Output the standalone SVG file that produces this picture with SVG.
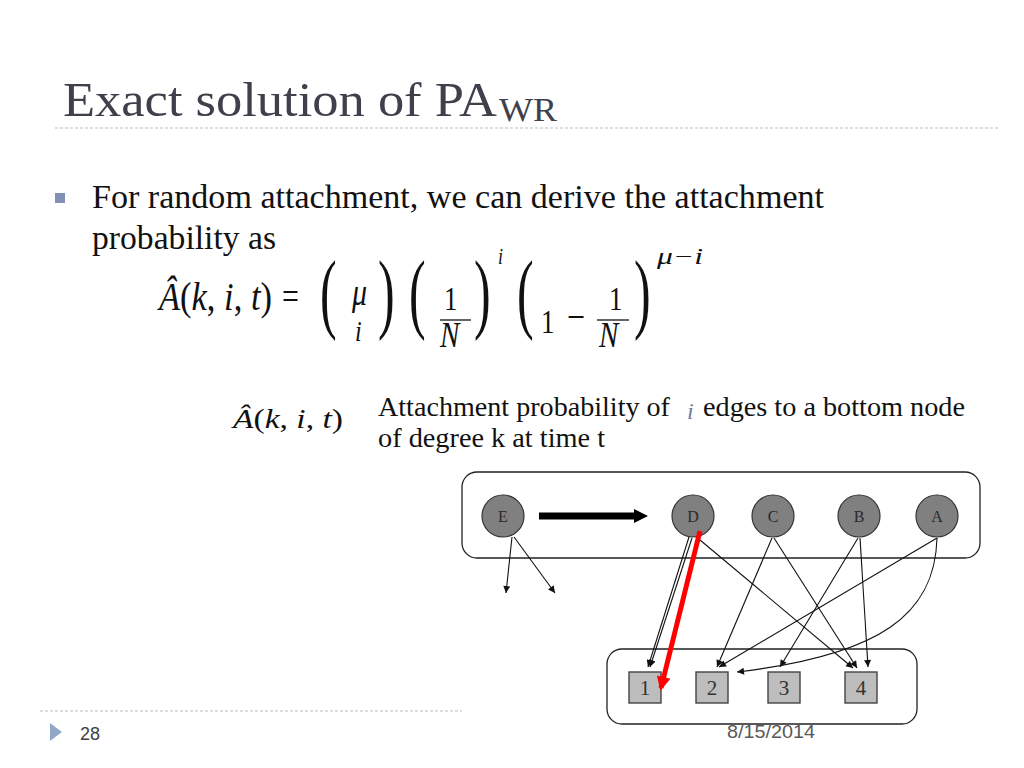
<svg xmlns="http://www.w3.org/2000/svg" width="1024" height="768" viewBox="0 0 1024 768">
<style>
.serif{font-family:"Liberation Serif","Times New Roman",serif}
.sans{font-family:"Liberation Sans",Arial,sans-serif}
.it{font-style:italic}
.dash{stroke:#b4bfcc;stroke-width:1.2;stroke-dasharray:3 2;fill:none}
.edge{stroke:#111;stroke-width:1.1;fill:none;marker-end:url(#ah)}
.node circle{fill:#808080;stroke:#333;stroke-width:1.2}
.node rect{fill:#bdbdbd;stroke:#444;stroke-width:1.4}
.nl{font-family:"Liberation Serif","Times New Roman",serif;font-size:16px;fill:#2a2a2a;text-anchor:middle}
.sl{font-family:"Liberation Serif","Times New Roman",serif;font-size:21px;fill:#333;text-anchor:middle}
.box{fill:none;stroke:#222;stroke-width:1.3}
.f{font-family:"Liberation Serif","Times New Roman",serif;fill:#111}
</style>
<defs>
<marker id="ah" viewBox="0 0 10 10" refX="10" refY="5" markerWidth="8" markerHeight="7" markerUnits="userSpaceOnUse" orient="auto">
<path d="M0,0 L10,5 L0,10 z" fill="#111"/>
</marker>
<marker id="rh" viewBox="0 0 10 10" refX="8" refY="5" markerWidth="16" markerHeight="14" markerUnits="userSpaceOnUse" orient="auto">
<path d="M0,0 L10,5 L0,10 z" fill="#ff0000"/>
</marker>
</defs>
<rect width="1024" height="768" fill="#ffffff"/>

<!-- title -->
<g id="title">
<text class="serif" x="63" y="116" font-size="48" fill="#40404c" textLength="434" lengthAdjust="spacingAndGlyphs">Exact solution of PA</text>
<text class="serif" x="499" y="121" font-size="33" fill="#40404c" textLength="58" lengthAdjust="spacingAndGlyphs">WR</text>
<line class="dash" x1="55" y1="128" x2="1000" y2="128"/>
</g>

<!-- bullet -->
<g id="bullet">
<rect x="55" y="193" width="10" height="10" fill="#8190b6"/>
<text class="serif" x="92" y="208" font-size="33.5" fill="#111" textLength="732" lengthAdjust="spacingAndGlyphs">For random attachment, we can derive the attachment</text>
<text class="serif" x="92" y="249" font-size="33.5" fill="#111" textLength="184" lengthAdjust="spacingAndGlyphs">probability as</text>
</g>

<!-- formula 1 -->
<g id="formula1">
<g transform="matrix(1 0 0 1.25 0 -77.5)">
<text class="f" x="159" y="310" font-size="32" textLength="113" lengthAdjust="spacingAndGlyphs"><tspan class="it">Â</tspan>(<tspan class="it">k</tspan>, <tspan class="it">i</tspan>, <tspan class="it">t</tspan>)</text>
<text class="f" x="282" y="309" font-size="30">=</text>
<text class="f it" x="352" y="306" font-size="30">μ</text>
<text class="f it" x="355" y="335" font-size="24">i</text>
<text class="f" x="444" y="310" font-size="27">1</text>
<text class="f it" x="440" y="339.6" font-size="29">N</text>
<text class="f it" x="498" y="273" font-size="18">i</text>
<text class="f" x="541" y="328.4" font-size="27">1</text>
<text class="f" x="567" y="326" font-size="32">−</text>
<text class="f" x="609" y="310" font-size="27">1</text>
<text class="f it" x="599" y="339.6" font-size="29">N</text>
<text class="f it" x="657" y="273" font-size="18" textLength="46" lengthAdjust="spacingAndGlyphs">μ−i</text>
</g>
<line x1="440" y1="320" x2="471" y2="320" stroke="#111" stroke-width="1.3"/>
<line x1="597" y1="320" x2="629" y2="320" stroke="#111" stroke-width="1.3"/>
<text class="f" transform="translate(320,322) scale(1.25,2.22)" font-size="40">(</text>
<text class="f" transform="translate(378,322) scale(1.25,2.22)" font-size="40">)</text>
<text class="f" transform="translate(409,322) scale(1.25,2.22)" font-size="40">(</text>
<text class="f" transform="translate(474,322) scale(1.25,2.22)" font-size="40">)</text>
<text class="f" transform="translate(517,322) scale(1.25,2.22)" font-size="40">(</text>
<text class="f" transform="translate(634,322) scale(1.25,2.22)" font-size="40">)</text>
</g>

<!-- formula 2 and description -->
<g id="formula2">
<text class="f" x="233" y="428" font-size="27" textLength="110" lengthAdjust="spacingAndGlyphs"><tspan class="it">Â</tspan>(<tspan class="it">k</tspan>, <tspan class="it">i</tspan>, <tspan class="it">t</tspan>)</text>
<text class="serif" x="378" y="416" font-size="28" fill="#111" textLength="292" lengthAdjust="spacingAndGlyphs">Attachment probability of</text>
<text class="serif it" x="687" y="419" font-size="24" fill="#6f7f9f">i</text>
<text class="serif" x="703" y="416" font-size="28" fill="#111" textLength="262" lengthAdjust="spacingAndGlyphs">edges to a bottom node</text>
<text class="serif" x="378" y="447" font-size="28" fill="#111" textLength="227" lengthAdjust="spacingAndGlyphs">of degree k at time t</text>
</g>

<!-- footer -->
<g id="footer">
<line class="dash" x1="40" y1="711" x2="462" y2="711"/>
<polygon points="50,723 62,732 50,741" fill="#91a9c9"/>
<text class="sans" x="80" y="740" font-size="18" fill="#404040">28</text>
<text class="sans" x="727" y="738" font-size="18" fill="#595959" textLength="88" lengthAdjust="spacingAndGlyphs">8/15/2014</text>
</g>

<!-- graph -->
<g id="graph">
<rect x="462" y="472" width="518" height="86" rx="15" class="box"/>
<rect x="607" y="649" width="310" height="75" rx="15" class="box"/>

<g id="connectors">
<path class="edge" d="M512,537 L506,593"/>
<path class="edge" d="M514,537 L555,593"/>
<path class="edge" d="M689,537 L648,667"/>
<path class="edge" d="M692,538 L650,667"/>
<path class="edge" d="M700,540 L853,668"/>
<path class="edge" d="M772,538 L717,667"/>
<path class="edge" d="M774,538 L857,668"/>
<path class="edge" d="M858,538 L780,667"/>
<path class="edge" d="M860,538 L868,667"/>
<path class="edge" d="M937,538 L719,667"/>
<path class="edge" d="M937,538 C935,615 880,655 737,672"/>
<path d="M539,516 L636,516" stroke="#000" stroke-width="7" fill="none"/>
<path d="M634,509 L648,516 L634,523 z" fill="#000"/>
</g>

<g id="nE" class="node"><circle cx="503" cy="516" r="21"/><text class="nl" x="503" y="522">E</text></g>
<g id="nD" class="node"><circle cx="693" cy="516" r="21"/><text class="nl" x="693" y="522">D</text></g>
<g id="nC" class="node"><circle cx="773" cy="516" r="21"/><text class="nl" x="773" y="522">C</text></g>
<g id="nB" class="node"><circle cx="859" cy="516" r="21"/><text class="nl" x="859" y="522">B</text></g>
<g id="nA" class="node"><circle cx="937" cy="516" r="21"/><text class="nl" x="937" y="522">A</text></g>

<g id="n1" class="node"><rect x="629" y="672" width="32" height="31"/><text class="sl" x="645" y="695">1</text></g>
<g id="n2" class="node"><rect x="696" y="672" width="32" height="31"/><text class="sl" x="712" y="695">2</text></g>
<g id="n3" class="node"><rect x="768" y="672" width="32" height="31"/><text class="sl" x="784" y="695">3</text></g>
<g id="n4" class="node"><rect x="845" y="672" width="32" height="31"/><text class="sl" x="861" y="695">4</text></g>

<path d="M700,531 L661,688" stroke="#ff0000" stroke-width="5" fill="none" marker-end="url(#rh)"/>
</g>
</svg>
